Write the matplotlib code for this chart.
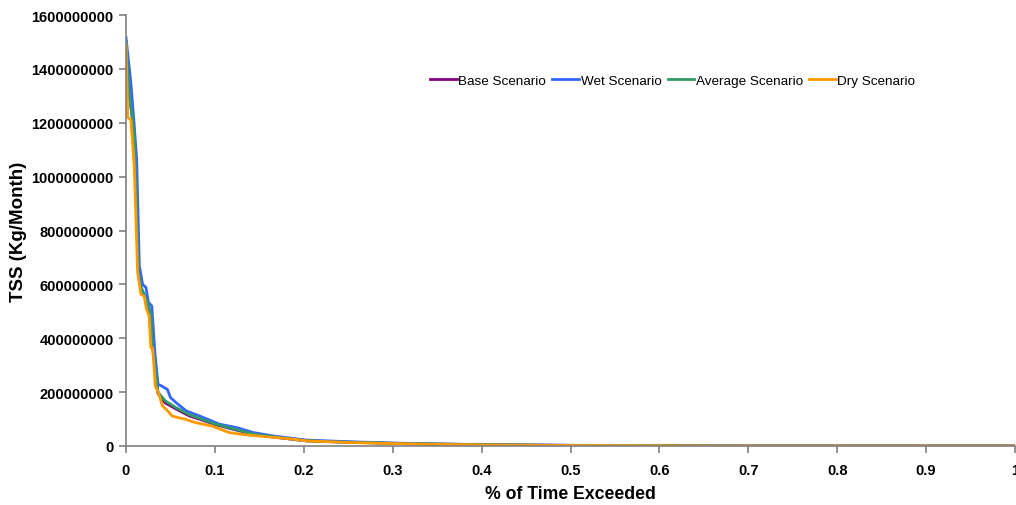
import matplotlib
matplotlib.use("Agg")
from matplotlib import pyplot as plt
from matplotlib.ticker import FuncFormatter

plt.rcParams['font.family'] = ['Liberation Sans', 'DejaVu Sans']

# fraction of time exceeded and TSS (kg/month)
tail_x = [0.25, 0.3, 0.35, 0.4, 0.45, 0.5, 0.55, 0.6, 0.645, 0.7, 1.0]

wet_x = [0.0, 0.0056, 0.0093, 0.012, 0.015, 0.017, 0.0186, 0.0224, 0.0253, 0.029,
         0.0325, 0.036, 0.040, 0.0466, 0.050, 0.056, 0.063, 0.068, 0.083, 0.092,
         0.105, 0.125, 0.143, 0.166, 0.203] + tail_x
wet_y = [1.517e9, 1.344e9, 1.189e9, 1.065e9, 6.69e8, 6.32e8, 6.0e8, 5.89e8, 5.33e8, 5.2e8,
         3.47e8, 2.29e8, 2.23e8, 2.1e8, 1.8e8, 1.62e8, 1.43e8, 1.3e8, 1.11e8, 9.9e7,
         8.1e7, 6.8e7, 5.0e7, 3.7e7, 2.2e7,
         1.6e7, 1.1e7, 7.5e6, 5.5e6, 3.8e6, 2.6e6, 1.9e6, 1.3e6, 6e5, 0, 0]

avg_x = [0.0, 0.004, 0.0093, 0.014, 0.017, 0.024, 0.028, 0.030, 0.036, 0.044,
         0.056, 0.071, 0.086, 0.101, 0.123, 0.145, 0.174, 0.203] + tail_x
avg_y = [1.50e9, 1.30e9, 1.16e9, 6.44e8, 5.9e8, 5.35e8, 4.9e8, 3.7e8, 2.0e8, 1.68e8,
         1.43e8, 1.17e8, 9.9e7, 8.1e7, 6.2e7, 4.3e7, 3.1e7, 1.9e7,
         1.4e7, 1.0e7, 7e6, 5e6, 3.5e6, 2.4e6, 1.7e6, 1.1e6, 5e5, 0, 0]

base_x = [0.0, 0.004, 0.0093, 0.014, 0.017, 0.024, 0.028, 0.030, 0.036, 0.044,
          0.056, 0.071, 0.086, 0.101, 0.123, 0.145, 0.174, 0.203] + tail_x
base_y = [1.50e9, 1.30e9, 1.16e9, 6.40e8, 5.85e8, 5.3e8, 4.85e8, 3.65e8, 1.95e8, 1.60e8,
          1.38e8, 1.12e8, 9.6e7, 7.9e7, 6.0e7, 4.2e7, 3.0e7, 1.9e7,
          1.4e7, 1.0e7, 7e6, 5e6, 3.5e6, 2.4e6, 1.7e6, 1.1e6, 5e5, 0, 0]

dry_x = [0.0, 0.002, 0.0056, 0.0093, 0.0131, 0.0168, 0.0205, 0.023, 0.026, 0.028,
         0.030, 0.033, 0.037, 0.041, 0.047, 0.052, 0.067, 0.078, 0.097, 0.116,
         0.131, 0.149, 0.19, 0.203] + tail_x
dry_y = [1.49e9, 1.22e9, 1.21e9, 1.04e9, 6.44e8, 5.63e8, 5.56e8, 5.08e8, 4.83e8, 3.65e8,
         3.65e8, 2.23e8, 1.92e8, 1.49e8, 1.3e8, 1.11e8, 9.9e7, 8.7e7, 7.4e7, 5.0e7,
         4.3e7, 3.7e7, 2.5e7, 1.9e7,
         1.3e7, 9e6, 6e6, 4.2e6, 3e6, 2e6, 1.4e6, 9e5, 4e5, 0, 0]

fig = plt.figure(figsize=(10.16, 5.06), dpi=100)
ax = fig.add_axes([126 / 1016, 59 / 506, 889 / 1016, 431 / 506])

ax.plot(base_x, base_y, color='#800080', lw=2.0, label='Base Scenario')
ax.plot(wet_x, wet_y, color='#3366FF', lw=2.0, label='Wet Scenario')
ax.plot(avg_x, avg_y, color='#339966', lw=2.0, label='Average Scenario')
ax.plot(dry_x, dry_y, color='#FF9900', lw=2.0, label='Dry Scenario')

ax.set_xlim(0, 1)
ax.set_ylim(0, 1.6e9)
ax.set_xticks([i / 10 for i in range(11)])
ax.set_yticks([i * 2e8 for i in range(9)])
ax.xaxis.set_major_formatter(FuncFormatter(lambda v, p: f"{v:g}"))
ax.yaxis.set_major_formatter(FuncFormatter(lambda v, p: f"{int(round(v))}"))

for s in ['top', 'right']:
    ax.spines[s].set_visible(False)
for s in ['left', 'bottom']:
    ax.spines[s].set_color('#808080')
    ax.spines[s].set_linewidth(1.2)
ax.tick_params(axis='both', color='#808080', length=5, width=1.2,
               labelsize=10.5, pad=4)
ax.tick_params(axis='x', pad=7)
for lbl in ax.get_xticklabels() + ax.get_yticklabels():
    lbl.set_fontweight('bold')

ax.set_xlabel('% of Time Exceeded', fontsize=12.7, fontweight='bold', labelpad=6)
ax.set_ylabel('TSS (Kg/Month)', fontsize=13.5, fontweight='bold', labelpad=3)

ax.legend(loc='upper left', bbox_to_anchor=(0.336, 0.875), ncol=4, frameon=False,
          fontsize=9.7, handlelength=2.0, handletextpad=0.1, columnspacing=0.45,
          borderaxespad=0)

fig.savefig('out.png', dpi=100)
